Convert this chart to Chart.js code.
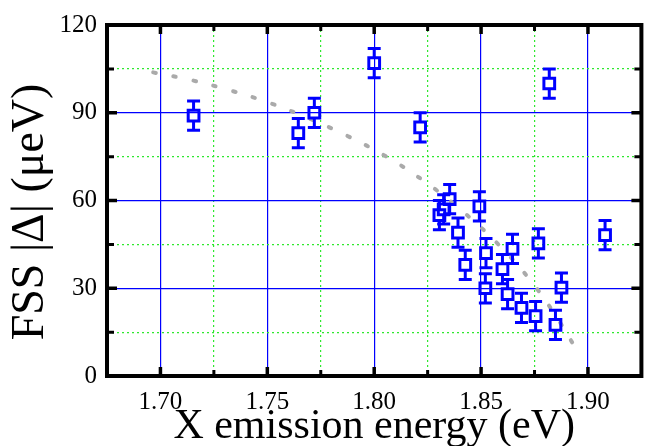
<!DOCTYPE html>
<html>
<head>
<meta charset="utf-8">
<script src="https://cdn.jsdelivr.net/npm/chart.js@4"></script>
<style>
  html, body { margin: 0; padding: 0; background: #fff; }
  #wrap { width: 652px; height: 446px; }
</style>
</head>
<body>
<div id="wrap"><canvas id="fssChart"></canvas></div>
<script>
// measured points: emission energy (eV), FSS (ueV), error (ueV)
const energy = [1.7155, 1.7645, 1.772, 1.800, 1.8215, 1.8305, 1.8325, 1.8353, 1.8392, 1.8426,
                1.8492, 1.8520, 1.8523, 1.8600, 1.8624, 1.8647, 1.8689, 1.8755, 1.8768, 1.8819,
                1.8848, 1.8876, 1.9080];
const fss = [89, 83, 90, 107, 85, 55, 57, 60.5, 49, 38,
             58, 30, 42, 36.5, 28, 43.5, 23.3, 20.5, 45.3, 100,
             17.5, 30.2, 48.2];
const fssErr = [5, 5, 5, 5, 5, 5, 5, 5, 5, 5,
                5, 5, 5, 5, 5, 5, 5, 5, 5, 5,
                5, 5, 5];

// grey dotted guide curve
const fitEnergy = [1.6966, 1.7148, 1.7328, 1.7509, 1.7690, 1.7871, 1.8052, 1.8232, 1.8412, 1.8590, 1.8748, 1.8873, 1.8926];
const fitFss = [103.8, 101.1, 97.6, 93.4, 88.2, 82.2, 75.2, 66.7, 56.4, 44.3, 31.1, 17.9, 11.5];

const xMajorTicks = [1.70, 1.75, 1.80, 1.85, 1.90];
const xMinorTicks = [1.725, 1.775, 1.825, 1.875];
const yMajorTicks = [0, 30, 60, 90, 120];
const yMinorTicks = [15, 45, 75, 105];

const BLUE = "#0000ff";
const GREEN = "#2ee82e";
const FONT = "'Liberation Serif', 'Times New Roman', serif";

function buildTicks(major, minor) {
  return major.concat(minor).sort((a, b) => a - b).map(v => ({ value: v }));
}

/* ===== ERROR BARS ===== */
const errorBars = {
  id: "errorBars",
  afterDatasetsDraw(chart) {
    const { ctx, scales: { x, y } } = chart;
    const half = 5.5, cap = 6.5;
    ctx.save();
    ctx.strokeStyle = BLUE;
    ctx.lineWidth = 3;
    energy.forEach((e, i) => {
      const px = x.getPixelForValue(e);
      const mid = y.getPixelForValue(fss[i]);
      const top = y.getPixelForValue(fss[i] + fssErr[i]);
      const bot = y.getPixelForValue(fss[i] - fssErr[i]);
      ctx.beginPath();
      ctx.moveTo(px, top); ctx.lineTo(px, mid - half);
      ctx.moveTo(px, mid + half); ctx.lineTo(px, bot);
      ctx.moveTo(px - cap, top); ctx.lineTo(px + cap, top);
      ctx.moveTo(px - cap, bot); ctx.lineTo(px + cap, bot);
      ctx.stroke();
    });
    ctx.restore();
  }
};

/* ===== FRAME + INNER TICKS ===== */
const frame = {
  id: "frame",
  afterDraw(chart) {
    const { ctx, chartArea: a, scales: { x, y } } = chart;
    ctx.save();
    ctx.strokeStyle = "#000";
    x.ticks.forEach(t => {
      const major = xMajorTicks.includes(t.value);
      const len = major ? 9 : 6;
      const px = x.getPixelForValue(t.value);
      ctx.lineWidth = major ? 3.5 : 3;
      ctx.beginPath();
      ctx.moveTo(px, a.bottom); ctx.lineTo(px, a.bottom - len);
      ctx.moveTo(px, a.top); ctx.lineTo(px, a.top + len);
      ctx.stroke();
    });
    y.ticks.forEach(t => {
      const major = yMajorTicks.includes(t.value);
      const len = major ? 10 : 7;
      const py = y.getPixelForValue(t.value);
      ctx.lineWidth = major ? 3.5 : 3;
      ctx.beginPath();
      ctx.moveTo(a.left, py); ctx.lineTo(a.left + len, py);
      ctx.moveTo(a.right, py); ctx.lineTo(a.right - len, py);
      ctx.stroke();
    });
    ctx.lineWidth = 4;
    ctx.strokeRect(a.left, a.top, a.right - a.left, a.bottom - a.top);
    ctx.restore();
  }
};

new Chart(document.getElementById("fssChart"), {
  type: "scatter",
  data: {
    datasets: [{
      label: "FSS",
      data: energy.map((e, i) => ({ x: e, y: fss[i] })),
      pointStyle: "rect",
      pointRadius: 7.6,
      pointHoverRadius: 7.6,
      pointBorderWidth: 3,
      pointBorderColor: BLUE,
      pointBackgroundColor: "rgba(0,0,0,0)",
      order: 1
    }, {
      label: "guide",
      type: "line",
      data: fitEnergy.map((e, i) => ({ x: e, y: fitFss[i] })),
      borderColor: "#aaaaaa",
      borderWidth: 4,
      borderDash: [2.5, 18],
      borderCapStyle: "round",
      tension: 0.4,
      pointRadius: 0,
      fill: false,
      order: 2
    }]
  },
  options: {
    responsive: true,
    maintainAspectRatio: false,
    animation: false,
    layout: { padding: { top: 20, right: 5, left: 0, bottom: 0 } },
    plugins: { legend: { display: false }, tooltip: { enabled: false } },
    scales: {
      x: {
        type: "linear",
        min: 1.675,
        max: 1.925,
        afterBuildTicks: s => { s.ticks = buildTicks(xMajorTicks, xMinorTicks); },
        afterFit: s => { s.height = 70; },
        border: { display: false, dash: c => (c.tick && !xMajorTicks.includes(c.tick.value)) ? [2, 3] : [] },
        grid: {
          drawTicks: false,
          lineWidth: 1.2,
          color: c => (c.tick && xMajorTicks.includes(c.tick.value)) ? BLUE : GREEN
        },
        ticks: {
          padding: 11,
          color: "#000",
          font: { family: FONT, size: 25 },
          maxRotation: 0,
          autoSkip: false,
          callback: v => xMajorTicks.includes(v) ? v.toFixed(2) : ""
        },
        title: {
          display: true,
          text: "X emission energy (eV)",
          color: "#000",
          font: { family: FONT, size: 42, lineHeight: 0.92 },
          padding: { top: 0, bottom: 0 }
        }
      },
      y: {
        min: 0,
        max: 120,
        afterBuildTicks: s => { s.ticks = buildTicks(yMajorTicks, yMinorTicks); },
        afterFit: s => { s.width = 107; },
        border: { display: false, dash: c => (c.tick && !yMajorTicks.includes(c.tick.value)) ? [2, 3] : [] },
        grid: {
          drawTicks: false,
          lineWidth: 1.2,
          color: c => (c.tick && yMajorTicks.includes(c.tick.value)) ? BLUE : GREEN
        },
        ticks: {
          padding: 10,
          color: "#000",
          font: { family: FONT, size: 25 },
          autoSkip: false,
          callback: v => yMajorTicks.includes(v) ? String(v) : ""
        },
        title: {
          display: true,
          text: "FSS |\u0394| (\u03bceV)  ",
          color: "#000",
          font: { family: FONT, size: 46, lineHeight: 1 },
          padding: { top: 8, bottom: 0 }
        }
      }
    }
  },
  plugins: [errorBars, frame]
});
</script>
</body>
</html>
